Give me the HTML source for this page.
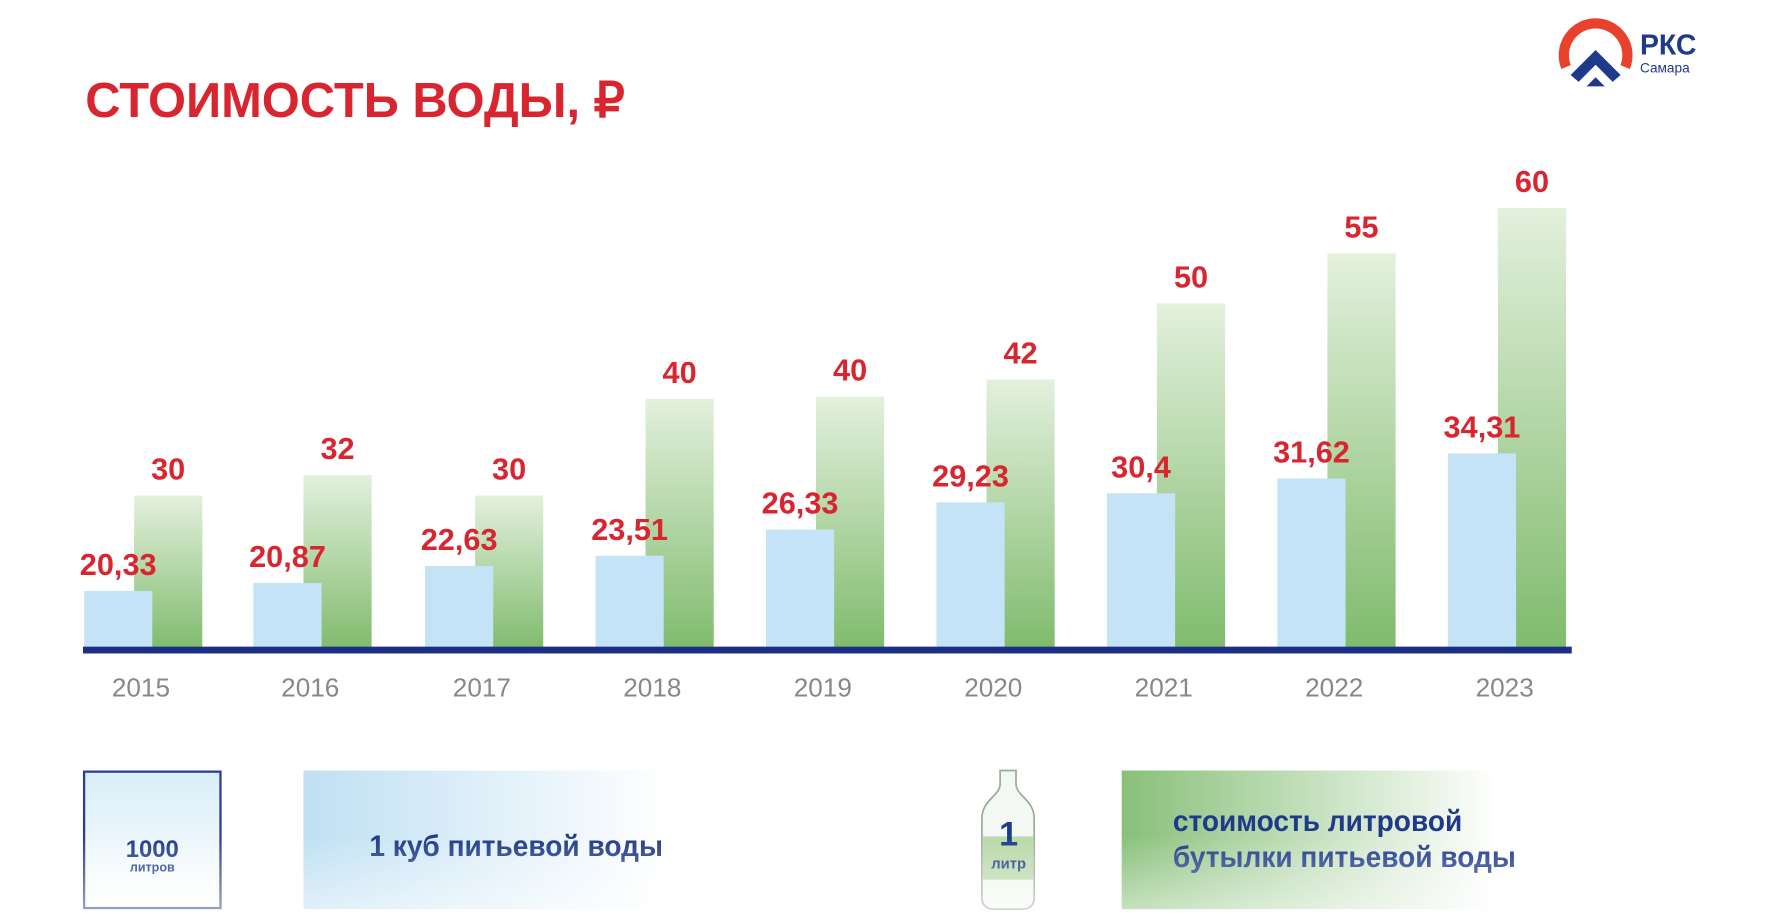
<!DOCTYPE html>
<html><head><meta charset="utf-8"><style>
html,body{margin:0;padding:0;background:#fff;overflow:hidden}
#s{position:absolute;left:0;top:0;width:1568px;height:805px;transform:scale(1.13648);transform-origin:0 0;font-family:"Liberation Sans",sans-serif}
.a{position:absolute}
.g{position:absolute;width:60px;background:linear-gradient(#e3f0dd,#7fbb6c)}
.b{position:absolute;width:60px;background:#c4e3f6}
.v{position:absolute;color:#d9252f;font-weight:bold;font-size:27px;width:120px;text-align:center}
.y{position:absolute;color:#888;font-size:23px;width:100px;text-align:center;top:592px}
.t{color:#1f3a8a;font-weight:bold;font-size:26px;transform:scaleX(.95);transform-origin:0 0}
</style></head><body><div id="s">
<div class="a" style="left:75px;top:64px;color:#d9252f;font-weight:bold;font-size:43px">СТОИМОСТЬ ВОДЫ, ₽</div>
<svg class="a" style="left:1370px;top:14px" width="70" height="66" viewBox="0 0 70 66">
<path d="M8 45 A28 28 0 1 1 60 45" fill="none" stroke="#e8412c" stroke-width="9"/>
<path d="M12 52 L34 30 L56 52 L49 58 L34 43 L19 58Z" fill="#1f3a8a"/>
<path d="M26 62 L34 54 L42 62Z" fill="#1f3a8a"/></svg>
<div class="a" style="left:1443px;top:26px;color:#1f3a8a;font-weight:bold;font-size:25px">РКС</div>
<div class="a" style="left:1443px;top:53px;color:#1f3a8a;font-size:12px">Самара</div>
<div id="bars"></div>
<div class="a" style="left:73px;top:569px;width:1310px;height:6px;background:#1b2f86"></div>
<div class="a" style="left:73px;top:678px;width:122px;height:122px;border:2px solid #2a3d8f;box-sizing:border-box;background:linear-gradient(#d8eef8,#fff)"></div>
<div class="a" style="left:73px;top:736px;width:122px;text-align:center;color:#1f3a8a;font-weight:bold;font-size:21px">1000</div>
<div class="a" style="left:73px;top:758px;width:122px;text-align:center;color:#1f3a8a;font-size:11px;font-weight:bold">литров</div>
<div class="a" style="left:267px;top:678px;width:320px;height:122px;background:linear-gradient(90deg,#bfe0f3,#fff)"></div>
<div class="a t" style="left:325px;top:729px">1 куб питьевой воды</div>
<svg class="a" style="left:860px;top:676px" width="55" height="126" viewBox="0 0 55 126"><path d="M20 2h14v12c0 10 16 14 16 30v70c0 6-4 10-10 10H14c-6 0-10-4-10-10V44c0-16 16-20 16-30z" fill="#f4f8f4" stroke="#9aaa9a" stroke-width="1.5"/><rect x="5" y="60" width="44" height="38" fill="#b9d9a9"/></svg>
<div class="a" style="left:860px;top:718px;width:55px;text-align:center;color:#1f3a8a;font-weight:bold;font-size:30px">1</div>
<div class="a" style="left:860px;top:752px;width:55px;text-align:center;color:#1f3a8a;font-size:13px;font-weight:bold">литр</div>
<div class="a" style="left:987px;top:678px;width:330px;height:122px;background:linear-gradient(90deg,#88c079,#fff)"></div>
<div class="a t" style="left:1032px;top:706px;line-height:32px">стоимость литровой<br>бутылки питьевой воды</div>
<div class="a" style="left:0;top:735px;width:1568px;height:70px;background:linear-gradient(rgba(255,255,255,0),rgba(255,255,255,.55))"></div>
</div>
<script>
var xs=[74,223,374,524,674,824,974,1124,1274],gt=[436,418,436,351,349,334,267,223,183],bt=[520,513,498,489,466,442,434,421,399],
gv=["30","32","30","40","40","42","50","55","60"],bv=["20,33","20,87","22,63","23,51","26,33","29,23","30,4","31,62","34,31"],h="";
for(var i=0;i<9;i++){var x=xs[i];
h+='<div class="g" style="left:'+(x+44)+'px;top:'+gt[i]+'px;height:'+(572-gt[i])+'px"></div>';
h+='<div class="b" style="left:'+x+'px;top:'+bt[i]+'px;height:'+(572-bt[i])+'px"></div>';
h+='<div class="v" style="left:'+(x+14)+'px;top:'+(gt[i]-38)+'px">'+gv[i]+'</div>';
h+='<div class="v" style="left:'+(x-30)+'px;top:'+(bt[i]-38)+'px">'+bv[i]+'</div>';
h+='<div class="y" style="left:'+(x)+'px">'+(2015+i)+'</div>';}
document.getElementById('bars').innerHTML=h;
</script>
</body></html>
